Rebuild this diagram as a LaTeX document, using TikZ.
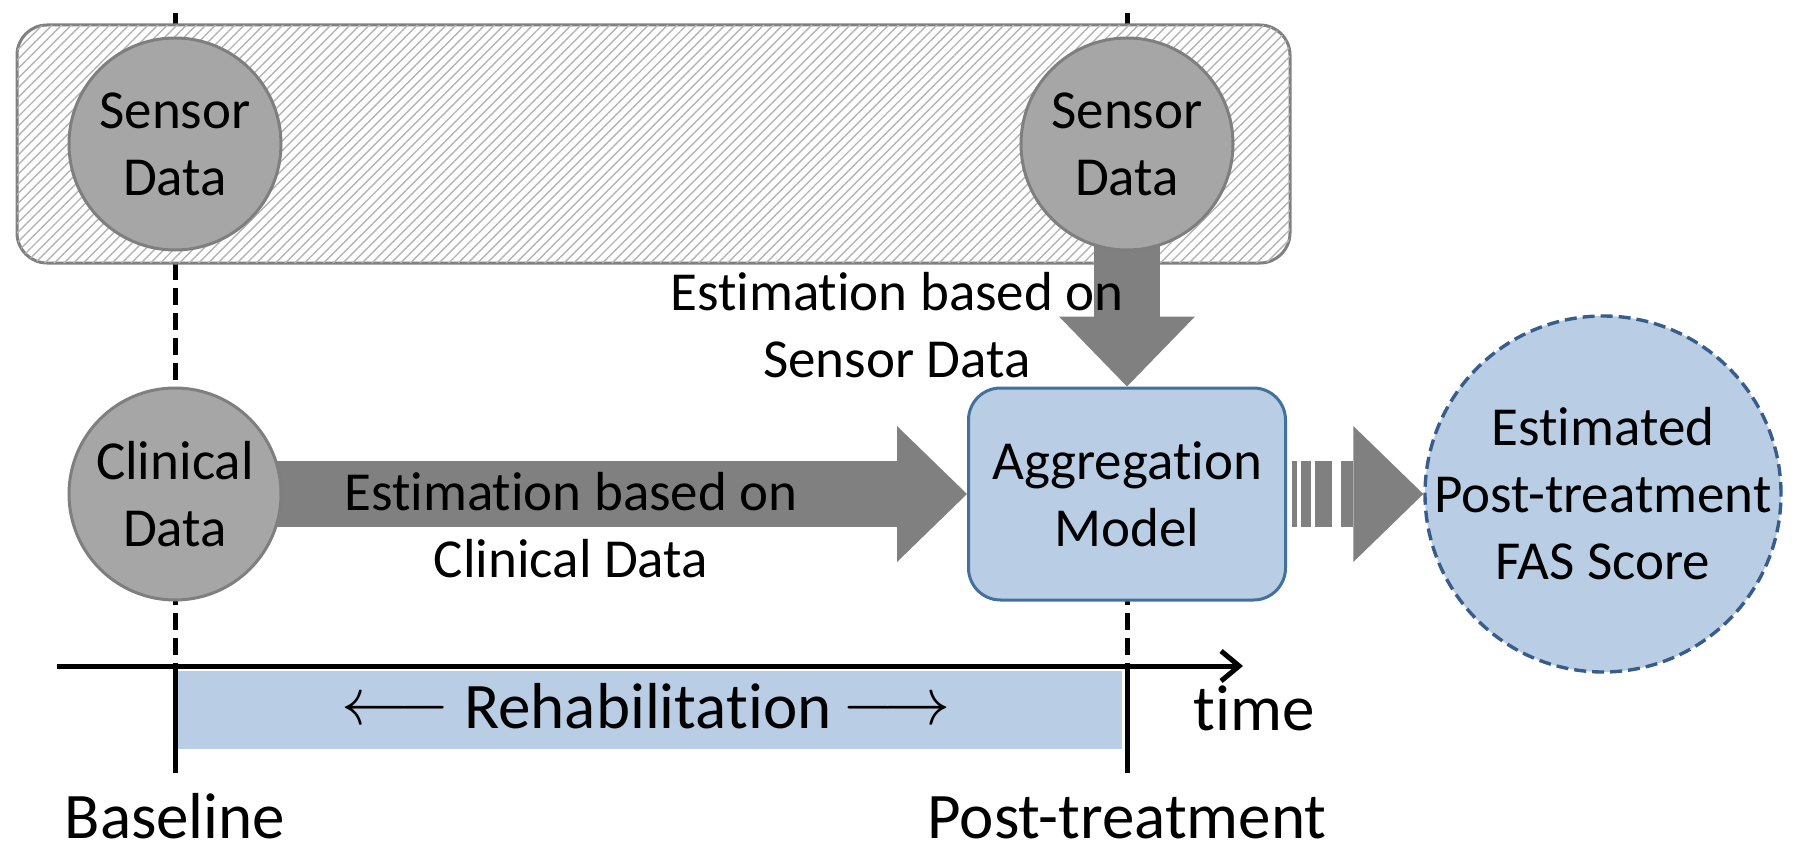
\documentclass[tikz,border=0pt]{standalone}
\usepackage{fontspec}
\setmainfont{Carlito}[Ligatures=NoCommon]
\usetikzlibrary{arrows.meta,positioning,calc,patterns.meta,backgrounds}

\definecolor{circgray}{HTML}{A6A6A6}
\definecolor{circedge}{HTML}{7F7F7F}
\definecolor{arrowgray}{HTML}{808080}
\definecolor{hatchgray}{HTML}{B4B4B4}
\definecolor{boxblue}{HTML}{B9CDE5}
\definecolor{edgeblue}{HTML}{41719C}
\definecolor{dashblue}{HTML}{385D8A}

\newcommand{\smallfnt}{\fontsize{27.5}{33.5}\selectfont}
\newcommand{\bigfnt}{\fontsize{32.5}{39}\selectfont}
\newcommand{\longarr}[1]{\raisebox{2pt}{\scalebox{1.35}{$#1$}}}

\begin{document}
\begin{tikzpicture}[x=0.5pt,y=-0.5pt,node distance=175pt,on grid,
    data/.style={circle,fill=circgray,draw=circedge,line width=1.5pt,minimum size=106pt,inner sep=0pt,align=center,font=\smallfnt},
    aggbox/.style={rectangle,rounded corners=16pt,fill=boxblue,draw=edgeblue,line width=1.5pt,minimum width=158.5pt,minimum height=106pt,inner sep=0pt,align=center,font=\smallfnt},
    outcome/.style={circle,fill=boxblue,draw=dashblue,line width=1.7pt,dash pattern=on 6pt off 3pt,minimum size=178pt,inner sep=0pt},
    bigarrow/.style={draw=arrowgray,line width=33pt,-{Triangle[length=35pt,width=68pt,line width=0pt]}},
    markline/.style={line width=2.5pt,dash pattern=on 8.5pt off 4pt},
    tick/.style={line width=2.5pt},
    txt/.style={inner sep=0pt,align=center,font=\smallfnt},
    bigtxt/.style={inner sep=0pt,font=\bigfnt}]
  \useasboundingbox (0,0) rectangle (1800,856);

  \node[data] (sens1) at (175,144) {Sensor\\Data};
  \node[data] (clin) [below=of sens1] {Clinical\\Data};
  \node[data] (sens2) [right=476pt of sens1] {Sensor\\Data};
  \node[aggbox] (agg) [below=of sens2] {Aggregation\\Model};
  \node[outcome,label={[txt]center:Estimated\\Post-treatment\\FAS Score}] (est) [right=238pt of agg] {};

  \coordinate (ttop) at (0,13);
  \coordinate (axisL) at (57,666);
  \coordinate (axisR) at (1243,666);

  \begin{scope}[on background layer]
    \draw[markline] (sens1 |- ttop) -- (sens1 |- axisL);
    \draw[markline] (sens2 |- ttop) -- (sens2 |- axisL);
    \draw[draw=arrowgray,line width=1.5pt,rounded corners=15pt,fill=white,
      postaction={pattern={Lines[angle=45,distance=3.4pt,line width=0.7pt]},pattern color=hatchgray}]
      (17,25) rectangle (1290,263);
    \draw[bigarrow] (clin.center) -- (agg.west);
    \draw[bigarrow] (sens2.center) -- (agg.north);
    \foreach \a/\b in {5/10,14/24,28/45}
      \fill[arrowgray] ($(agg.east)+(\a,-33)$) rectangle ($(agg.east)+(\b,33)$);
    \draw[bigarrow] ($(agg.east)+(54,0)$) -- (est.west);
  \end{scope}

  \fill[boxblue] (177,671) rectangle (1122,749);
  \draw[line width=2.5pt,-{Straight Barb[length=9pt,width=15pt]}] (axisL) -- (axisR);
  \draw[tick] (sens1 |- axisL) -- ++(0,107);
  \draw[tick] (sens2 |- axisL) -- ++(0,107);

  \node[txt] (clinlbl) at (571,525) {Estimation based on\\Clinical Data};
  \node[txt] (senslbl) at (897,325) {Estimation based on\\Sensor Data};
  \node[bigtxt,anchor=base] (rehab) at (646,728) {\longarr{\longleftarrow} Rehabilitation\,\longarr{\longrightarrow}};
  \node[bigtxt,anchor=base] (timelbl) at (1254,730) {time};
  \node[bigtxt,anchor=base] (baselbl) at (175,838) {Baseline};
  \node[bigtxt,anchor=base] (postlbl) at (1127,838) {Post-treatment};
\end{tikzpicture}
\end{document}
